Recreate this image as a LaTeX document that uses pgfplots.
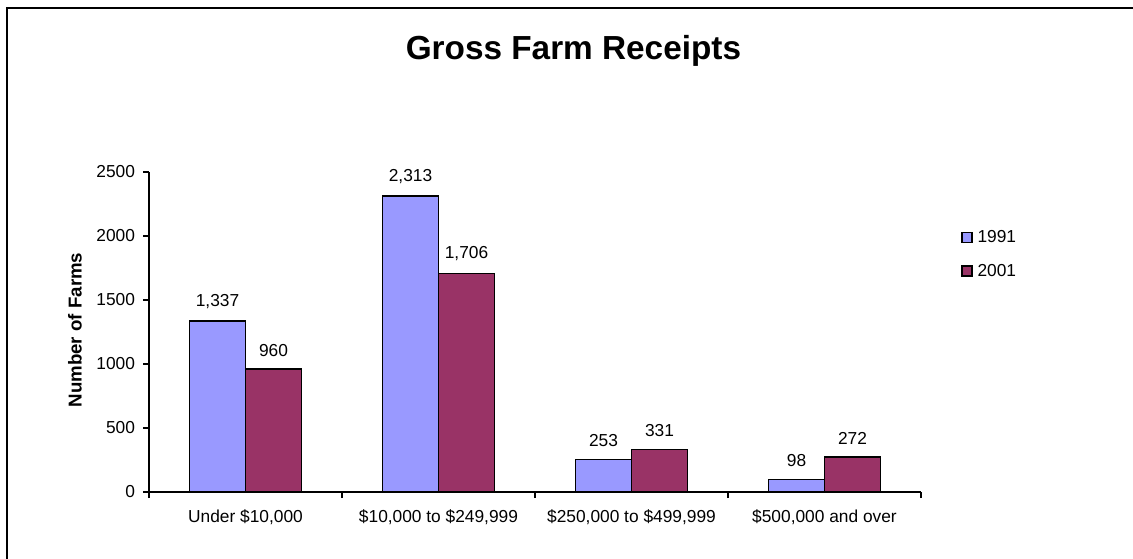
\documentclass[border=0pt]{standalone}
\usepackage{pgfplots}
\pgfplotsset{compat=1.18}
\usepackage{fontspec}
\setmainfont{Liberation Sans}

\definecolor{c1991}{HTML}{9999FF}
\definecolor{c2001}{HTML}{993366}

\begin{document}
\begin{tikzpicture}
\path[use as bounding box] (0,0) rectangle (849.75pt,418.5pt);
\draw[line width=2.2pt] (5.25pt,-2pt) -- (5.25pt,412.5pt) -- (852pt,412.5pt);

\begin{axis}[
    at={(111.75pt,49.5pt)}, anchor=south west,
    scale only axis, width=579pt, height=240pt,
    xmin=0, xmax=4, ymin=0, ymax=2500,
    axis x line*=bottom, axis y line*=left,
    axis line style={line width=1.5pt},
    ytick={0,500,1000,1500,2000,2500},
    xtick={0.5,1.5,2.5,3.5},
    xticklabels={{Under \$10,000}, {\$10,000 to \$249,999}, {\$250,000 to \$499,999}, {\$500,000 and over}},
    major x tick style={draw=none},
    minor xtick={0,1,2,3,4},
    tick align=outside,
    major tick length=4.5pt, minor tick length=4.5pt,
    y tick style={black, line width=1.2pt},
    minor x tick style={black, line width=1.2pt},
    tick label style={font=\fontsize{13}{15}\selectfont},
    yticklabel style={xshift=-2.5pt},
    xticklabel style={yshift=-5pt},
    /pgf/number format/assume math mode=true,
    /pgf/number format/1000 sep={},
    scaled y ticks=false,
    ybar=0pt, bar width=0.29,
    nodes near coords={\pgfmathprintnumber[1000 sep={,}]{\pgfplotspointmeta}},
    every node near coord/.append style={font=\fontsize{13}{15}\selectfont, anchor=south, yshift=5.5pt},
    legend style={at={(1.052,0.743)}, anchor=west, draw=none, fill=none,
        font=\fontsize{13}{15}\selectfont, row sep=10.5pt, inner sep=0pt,
        nodes={inner xsep=3.5pt}},
    legend cell align=left,
    legend image code/.code={\draw[#1, line width=1.1pt] (0pt,-3.75pt) rectangle (7.5pt,3.75pt);},
]
\addplot[fill=c1991, draw=black, line width=1.1pt, bar shift=-0.145]
    coordinates {(0.5,1337) (1.5,2313) (2.5,253) (3.5,98)};
\addplot[fill=c2001, draw=black, line width=1.1pt, bar shift=0.145]
    coordinates {(0.5,960) (1.5,1706) (2.5,331) (3.5,272)};
\legend{1991, 2001}
\end{axis}

\node[font=\bfseries\fontsize{25}{29}\selectfont] at (430.1pt,380.25pt) {Gross Farm Receipts};
\node[font=\bfseries\fontsize{14}{16}\selectfont, rotate=90] at (56.25pt,171pt) {Number of Farms};
\end{tikzpicture}
\end{document}
